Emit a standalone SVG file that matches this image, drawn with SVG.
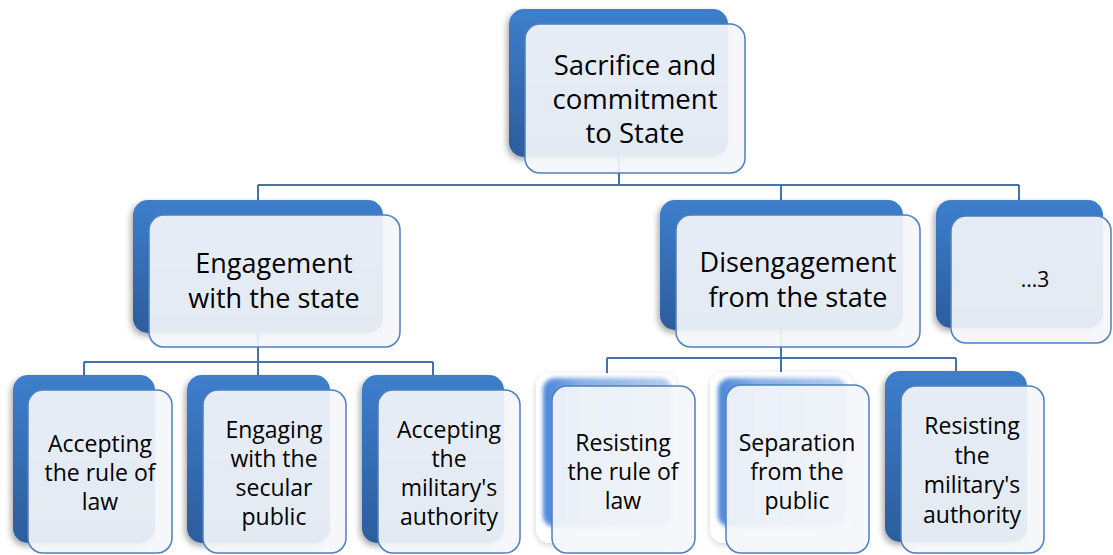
<svg xmlns="http://www.w3.org/2000/svg" width="1113" height="555" viewBox="0 0 1113 555">
  <defs>
    <linearGradient id="backGrad" x1="0" y1="0" x2="0" y2="1">
      <stop offset="0" stop-color="#3d7ecc"/>
      <stop offset="1" stop-color="#2c5d9c"/>
    </linearGradient>
    <linearGradient id="softGrad" x1="0" y1="0" x2="1" y2="0">
      <stop offset="0" stop-color="#4a86d8"/>
      <stop offset="0.3" stop-color="#86aee6"/>
      <stop offset="1" stop-color="#b3cbef"/>
    </linearGradient>
    <filter id="shadow" x="-20%" y="-20%" width="140%" height="140%">
      <feDropShadow dx="-2" dy="3" stdDeviation="3" flood-color="#000" flood-opacity="0.35"/>
    </filter>
    <filter id="glow" x="-20%" y="-20%" width="140%" height="140%">
      <feDropShadow dx="0" dy="2" stdDeviation="3" flood-color="#000" flood-opacity="0.18"/>
    </filter>
    <filter id="blur2" x="-10%" y="-10%" width="120%" height="120%">
      <feGaussianBlur stdDeviation="2"/>
    </filter>
  </defs>
  <style>
    .back { fill: url(#backGrad); filter: url(#shadow); }
    .soft-outer { fill: #ffffff; filter: url(#glow); }
    .soft-inner { fill: url(#softGrad); filter: url(#blur2); }
    .front { fill: #f4f6fa; fill-opacity: 0.92; stroke: #4f7fbf; stroke-width: 1.5; }
    .conn { fill: none; stroke: #4672aa; stroke-width: 2; }
    text { font-family: "Open Sans", "Liberation Sans", sans-serif; fill: #000; text-anchor: middle; }
    .t1 { font-size: 27.5px; }
    .t2 { font-size: 27px; }
    .t3 { font-size: 23px; }
    .t4 { font-size: 21px; }
  </style>

  <!-- connectors (drawn under the translucent front panels) -->
  <g id="connectors">
    <path class="conn" d="M619 157 V185 M258 185 H1019 M258 185 V200 M781 185 V200 M1019 185 V200"/>
    <path class="conn" d="M258 333 V362 M84 362 H433 M84 362 V375 M258 362 V375 M433 362 V375"/>
    <path class="conn" d="M781 330 V358 M607 358 H956 M607 358 V373 M781 358 V372 M956 358 V371"/>
  </g>

  <!-- root -->
  <g id="node-root">
    <rect class="back" x="509" y="9" width="219" height="148" rx="15"/>
    <rect class="front" x="525" y="24" width="220" height="149" rx="15"/>
    <text class="t1" x="635" y="75">Sacrifice and</text>
    <text class="t1" x="635" y="109">commitment</text>
    <text class="t1" x="635" y="143">to State</text>
  </g>

  <!-- second level -->
  <g id="node-engagement">
    <rect class="back" x="133" y="200" width="250" height="133" rx="15"/>
    <rect class="front" x="149" y="215" width="251" height="132" rx="15"/>
    <text class="t2" x="274" y="273">Engagement</text>
    <text class="t2" x="274" y="308">with the state</text>
  </g>

  <g id="node-disengagement">
    <rect class="back" x="660" y="200" width="243" height="130" rx="15"/>
    <rect class="front" x="676" y="215" width="244" height="132" rx="15"/>
    <text class="t2" x="798" y="272">Disengagement</text>
    <text class="t2" x="798" y="307">from the state</text>
  </g>

  <g id="node-other">
    <rect class="back" x="936" y="200" width="167" height="128" rx="15"/>
    <rect class="front" x="951" y="216" width="160" height="127" rx="15"/>
    <text class="t4" x="1035" y="287">...3</text>
  </g>

  <!-- leaves under "Engagement with the state" -->
  <g id="node-accept-law">
    <rect class="back" x="13" y="375" width="142" height="168" rx="15"/>
    <rect class="front" x="28" y="390" width="144" height="163" rx="15"/>
    <text class="t3" x="100" y="452">Accepting</text>
    <text class="t3" x="100" y="481">the rule of</text>
    <text class="t3" x="100" y="510">law</text>
  </g>

  <g id="node-engage-public">
    <rect class="back" x="187" y="375" width="143" height="168" rx="15"/>
    <rect class="front" x="203" y="390" width="143" height="163" rx="15"/>
    <text class="t3" x="274" y="438">Engaging</text>
    <text class="t3" x="274" y="467">with the</text>
    <text class="t3" x="274" y="496">secular</text>
    <text class="t3" x="274" y="525">public</text>
  </g>

  <g id="node-accept-military">
    <rect class="back" x="362" y="375" width="142" height="168" rx="15"/>
    <rect class="front" x="378" y="390" width="142" height="163" rx="15"/>
    <text class="t3" x="449" y="438">Accepting</text>
    <text class="t3" x="449" y="467">the</text>
    <text class="t3" x="449" y="496">military's</text>
    <text class="t3" x="449" y="525">authority</text>
  </g>

  <!-- leaves under "Disengagement from the state" -->
  <g id="node-resist-law">
    <rect class="soft-outer" x="536" y="373" width="141" height="170" rx="14"/>
    <rect class="soft-inner" x="543" y="378" width="129" height="149" rx="12"/>
    <rect class="front" x="552" y="386" width="143" height="167" rx="15"/>
    <text class="t3" x="623" y="451">Resisting</text>
    <text class="t3" x="623" y="480">the rule of</text>
    <text class="t3" x="623" y="509">law</text>
  </g>

  <g id="node-separation">
    <rect class="soft-outer" x="710" y="372" width="143" height="171" rx="14"/>
    <rect class="soft-inner" x="718" y="378" width="129" height="149" rx="12"/>
    <rect class="front" x="726" y="385" width="143" height="168" rx="15"/>
    <text class="t3" x="797" y="451">Separation</text>
    <text class="t3" x="797" y="480">from the</text>
    <text class="t3" x="797" y="509">public</text>
  </g>

  <g id="node-resist-military">
    <rect class="back" x="885" y="371" width="142" height="171" rx="15"/>
    <rect class="front" x="901" y="386" width="143" height="167" rx="15"/>
    <text class="t3" x="972" y="434">Resisting</text>
    <text class="t3" x="972" y="464">the</text>
    <text class="t3" x="972" y="493">military's</text>
    <text class="t3" x="972" y="523">authority</text>
  </g>
</svg>
